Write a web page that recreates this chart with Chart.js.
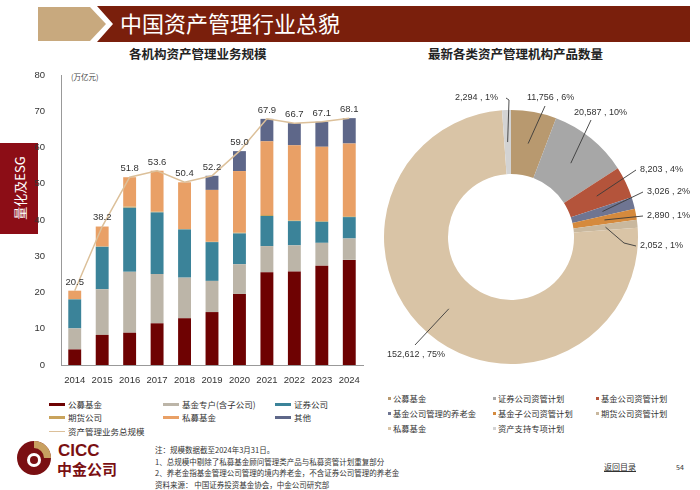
<!DOCTYPE html>
<html>
<head>
<meta charset="utf-8">
<script src="https://cdn.jsdelivr.net/npm/chart.js@4.4.1/dist/chart.umd.min.js"></script>
<style>
  body { margin: 0; background: #fff; font-family: "Noto Sans CJK SC", "Noto Sans", sans-serif; }
  #page { position: relative; width: 700px; height: 490px; overflow: hidden; }
  .abs { position: absolute; }
  .sub { font-size: 12.5px; font-weight: bold; color: #222; white-space: nowrap; }
  .lg { font-size: 8.5px; color: #333; white-space: nowrap; display: flex; align-items: center; }
  .note { font-size: 7.5px; color: #333; line-height: 11.5px; white-space: nowrap; }
</style>
</head>
<body>
<div id="page">
  <svg class="abs" style="left:0;top:0" width="700" height="60">
    <polygon points="38,7 90,7 106,24 90,41 38,41" fill="#c8a97e"/>
    <polygon points="97,6 690,6 690,42 97,42 113,24" fill="#7a1f0c"/>
    <text x="120" y="32" fill="#fff" font-size="22" font-family="Noto Sans CJK SC">中国资产管理行业总貌</text>
  </svg>
  <div class="abs sub" style="left:129px;top:44px">各机构资产管理业务规模</div>
  <div class="abs sub" style="left:428px;top:44px">最新各类资产管理机构产品数量</div>

  <div class="abs" style="left:0;top:143px;width:38px;height:91px;background:#8c0d16"></div>
  <div class="abs" style="left:19px;top:188px;transform:translate(-50%,-50%) rotate(-90deg);color:#fff;font-size:13px;white-space:nowrap">量化及ESG</div>

  <div class="abs" style="left:71px;top:71px;font-size:7.5px;color:#444">(万亿元)</div>
  <div class="abs" style="left:20px;top:60px;width:350px;height:330px"><canvas id="bar"></canvas></div>
  <div class="abs" style="left:380px;top:60px;width:320px;height:320px"><canvas id="donut"></canvas></div>
  <div id="barLegend"></div>
  <div id="pieLegend"></div>

  <svg class="abs" style="left:0;top:438px" width="140" height="52">
    <circle cx="34" cy="20" r="17" fill="#7a0f12"/>
    <path d="M34,3 A17,17 0 0,1 51,20 L44,20 A10,10 0 0,0 34,10 Z" fill="#c8a060"/>
    <circle cx="34" cy="22" r="7" fill="#fff"/>
    <circle cx="34" cy="22" r="4" fill="#7a0f12"/>
    <text x="58" y="18" fill="#7a0f12" font-size="17" font-weight="bold" font-family="Liberation Sans">CICC</text>
    <text x="57" y="37" fill="#7a0f12" font-size="15" font-weight="bold" font-family="Noto Sans CJK SC">中金公司</text>
  </svg>
  <div class="abs note" style="left:155px;top:444px">
    注：规模数据截至2024年3月31日。<br>
    1、总规模中剔除了私募基金顾问管理类产品与私募资管计划重复部分<br>
    2、养老金指基金管理公司管理的境内养老金，不含证券公司管理的养老金<br>
    资料来源： 中国证券投资基金协会，中金公司研究部
  </div>
  <div class="abs" style="left:604px;top:461px;font-size:8px;color:#333;text-decoration:underline">返回目录</div>
  <div class="abs" style="left:676px;top:462px;font-size:7px;color:#333">54</div>
</div>
<script>
// ---- bar chart data (万亿元) ----
const years = ['2014','2015','2016','2017','2018','2019','2020','2021','2022','2023','2024'];
const publicFunds   = [4.3, 8.3, 8.9, 11.5, 12.9, 14.6, 19.6, 25.6, 25.8, 27.4, 29.0];
const specialAcct   = [5.8, 12.6, 16.8, 13.6, 11.2, 8.6, 8.2, 7.2, 7.2, 6.3, 5.9];
const securities    = [8.0, 11.7, 17.7, 17.0, 13.3, 10.7, 8.5, 8.3, 6.7, 5.8, 5.9];
const futures       = [0.1, 0.1, 0.3, 0.2, 0.1, 0.1, 0.2, 0.3, 0.2, 0.2, 0.2];
const privateFunds  = [2.3, 5.5, 8.1, 11.3, 12.9, 14.3, 17.0, 20.3, 20.7, 20.5, 20.1];
const others        = [0, 0, 0, 0, 0, 3.9, 5.5, 6.2, 6.1, 6.9, 7.0];
const totalScale    = [20.5, 38.2, 51.8, 53.6, 50.4, 52.2, 59.0, 67.9, 66.7, 67.1, 68.1];

const barNames  = ['公募基金', '基金专户(含子公司)', '证券公司', '期货公司', '私募基金', '其他'];
const barColors = ['#6e0202', '#bcb5a8', '#3b8399', '#c9a35c', '#e9a066', '#5e6789'];
const totalName = '资产管理业务总规模';
const totalColor = '#dcc09a';

// ---- donut data (只) ----
const productTypes = ['公募基金', '证券公司资管计划', '基金公司资管计划', '基金公司管理的养老金',
  '基金子公司资管计划', '期货公司资管计划', '私募基金', '资产支持专项计划'];
const productCounts = [11756, 20587, 8203, 3026, 2890, 2052, 152612, 2294];
const productPct = ['6%', '10%', '4%', '2%', '1%', '1%', '75%', '1%'];
const pieColors = ['#b8996f', '#a7a7a7', '#b4543b', '#6f7592', '#d58a3d', '#c9b89e', '#d9c4a6', '#d3d3d3'];

// ---- legends (html) ----
const barLegendPos = [[49,398],[163,398],[275,398],[49,411],[163,411],[275,411]];
let html = '';
barNames.forEach((n, i) => {
  html += `<div class="abs lg" style="left:${barLegendPos[i][0]}px;top:${barLegendPos[i][1]}px">
    <span style="display:inline-block;width:16px;height:3px;background:${barColors[i]};margin-right:3px"></span>${n}</div>`;
});
html += `<div class="abs lg" style="left:49px;top:425px">
  <span style="display:inline-block;width:16px;height:1px;background:${totalColor};margin-right:3px"></span>${totalName}</div>`;
document.getElementById('barLegend').innerHTML = html;

const pieLegendPos = [[388,392],[493,392],[596,392],[388,407],[493,407],[596,407],[388,422],[493,422]];
html = '';
productTypes.forEach((n, i) => {
  html += `<div class="abs lg" style="left:${pieLegendPos[i][0]}px;top:${pieLegendPos[i][1]}px;font-size:8.3px">
    <span style="display:inline-block;width:3px;height:3px;background:${pieColors[i]};margin-right:2px"></span>${n}</div>`;
});
document.getElementById('pieLegend').innerHTML = html;

Chart.defaults.font.family = '"Liberation Sans", Arial, sans-serif';
Chart.defaults.color = '#333';

// total labels above the line
const totalLabels = {
  id: 'totalLabels',
  afterDatasetsDraw(chart) {
    const meta = chart.getDatasetMeta(chart.data.datasets.length - 1);
    const ctx = chart.ctx;
    ctx.save();
    ctx.font = '9.5px "Liberation Sans", Arial';
    ctx.fillStyle = '#333';
    ctx.textAlign = 'center';
    ctx.textBaseline = 'bottom';
    meta.data.forEach((p, i) => {
      ctx.fillText(totalScale[i].toFixed(1), p.x, p.y - 4);
    });
    ctx.restore();
  }
};

const barSets = [publicFunds, specialAcct, securities, futures, privateFunds, others].map((d, i) => ({
  type: 'bar', label: barNames[i], data: d, backgroundColor: barColors[i],
  stack: 'a', order: 1, barPercentage: 0.47, categoryPercentage: 1
}));
barSets.push({
  type: 'line', label: totalName, data: totalScale, borderColor: totalColor, borderWidth: 1.5,
  pointRadius: 0, stack: 'total', order: 0, tension: 0
});

new Chart(document.getElementById('bar'), {
  data: { labels: years, datasets: barSets },
  options: {
    responsive: true, maintainAspectRatio: false, animation: false,
    layout: { padding: { top: 15, right: 7, left: 0, bottom: 0 } },
    plugins: { legend: { display: false }, tooltip: { enabled: false } },
    scales: {
      x: {
        stacked: true,
        grid: { display: false, drawTicks: true },
        border: { color: '#999' },
        ticks: { font: { size: 9.5 }, padding: 2, maxRotation: 0 },
        afterFit(s) { s.height = 25; }
      },
      y: {
        stacked: true, min: 0, max: 80,
        grid: { display: false },
        border: { color: '#999' },
        ticks: { stepSize: 10, font: { size: 9.5 }, padding: 8 },
        afterFit(s) { s.width = 41; }
      }
    }
  },
  plugins: [totalLabels]
});

// donut label anchors (canvas coords) and leader ends
const labelAnchor = [[145,38],[192,53],[258,110],[265,132],[265,156],[258,186],[7,295],[75,38]];
const leaderEnd   = [[165,46],[211,60],[256,110],[263,132],[263,156],[256,186],[35,285],[126,38]];

const donutLabels = {
  id: 'donutLabels',
  afterDatasetsDraw(chart) {
    const meta = chart.getDatasetMeta(0);
    const ctx = chart.ctx;
    ctx.save();
    ctx.strokeStyle = '#3a3a3a';
    ctx.lineWidth = 0.9;
    ctx.font = '9px "Liberation Sans", Arial';
    ctx.fillStyle = '#333';
    ctx.textBaseline = 'middle';
    meta.data.forEach((arc, i) => {
      const p = arc.tooltipPosition();
      const e = leaderEnd[i];
      ctx.beginPath();
      ctx.moveTo(p.x, p.y);
      if (i === 7) {
        ctx.lineTo(e[0] + 3, e[1] + 2);
        ctx.lineTo(e[0], e[1]);
      } else if (i === 5) {
        ctx.lineTo(e[0] - 12, e[1] - 3);
        ctx.lineTo(e[0], e[1]);
      } else {
        ctx.lineTo(e[0], e[1]);
      }
      ctx.stroke();
      const txt = productCounts[i].toLocaleString('en-US') + ' , ' + productPct[i];
      ctx.textAlign = 'left';
      ctx.fillText(txt, labelAnchor[i][0] + (i === 7 || i === 6 ? 0 : 2), labelAnchor[i][1]);
    });
    ctx.restore();
  }
};

new Chart(document.getElementById('donut'), {
  type: 'doughnut',
  data: {
    labels: productTypes,
    datasets: [{ data: productCounts, backgroundColor: pieColors, borderWidth: 0 }]
  },
  options: {
    responsive: true, maintainAspectRatio: false, animation: false,
    cutout: 63, radius: 127,
    layout: { padding: { left: 4, right: 62, top: 50, bottom: 16 } },
    plugins: { legend: { display: false }, tooltip: { enabled: false } }
  },
  plugins: [donutLabels]
});
</script>
</body>
</html>
